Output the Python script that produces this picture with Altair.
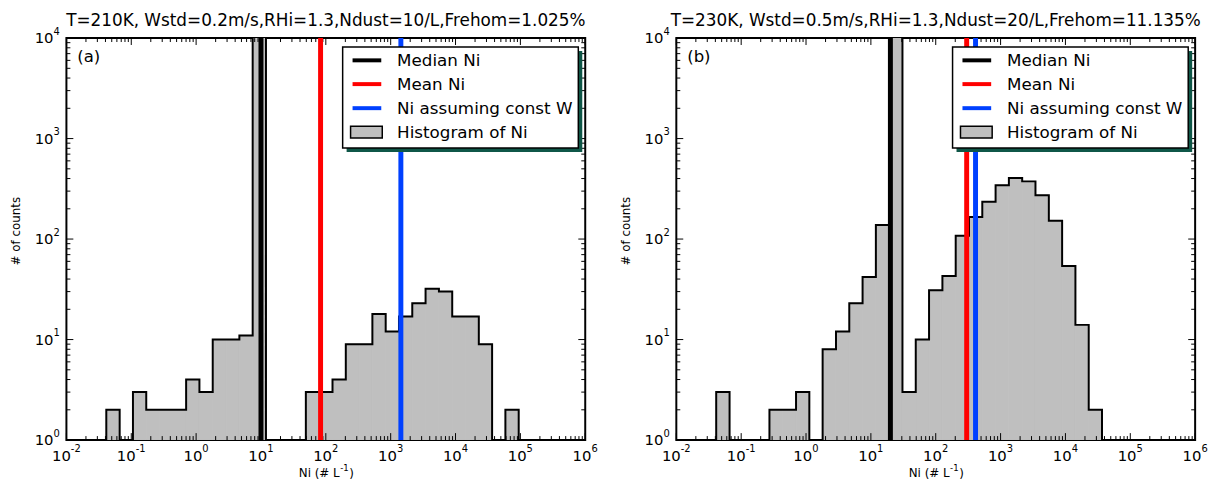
import altair as alt
import pandas as pd

FONT = "DejaVu Sans"
W, H = 524, 406

# log10 of histogram bin edges (40 edges -> 39 bins)
edges_log10 = [-2.000, -1.795, -1.590, -1.385, -1.179, -0.974, -0.769, -0.564, -0.359, -0.154,
               0.051, 0.256, 0.462, 0.667, 0.872, 1.077, 1.282, 1.487, 1.692, 1.897,
               2.103, 2.308, 2.513, 2.718, 2.923, 3.128, 3.333, 3.538, 3.744, 3.949,
               4.154, 4.359, 4.564, 4.769, 4.974, 5.179, 5.385, 5.590, 5.795, 6.000]

counts_a = [0, 0, 0, 2, 0, 3, 2, 2, 2, 4, 3, 10, 10, 11, 12000, 0, 0, 0, 3, 3,
            4, 9, 9, 18, 12, 17, 23, 32, 30, 17, 17, 9, 0, 2, 0, 0, 0, 0, 0]
counts_b = [0, 0, 0, 3, 0, 0, 0, 2, 2, 3, 0, 8, 12, 23, 42, 138, 12000, 3, 10, 31,
            43, 108, 166, 235, 343, 405, 375, 273, 152, 54, 14, 2, 0, 0, 0, 0, 0, 0, 0]

stat_names = ["Median Ni", "Mean Ni", "Ni assuming const W"]
stat_colors = ["#000000", "#ff0000", "#0040ff"]
stats_a = [10, 83, 1436]
stats_b = [20, 300, 411]

titles = ["T=210K, Wstd=0.2m/s,RHi=1.3,Ndust=10/L,Frehom=1.025%",
          "T=230K, Wstd=0.5m/s,RHi=1.3,Ndust=20/L,Frehom=11.135%"]
tags = ["(a)", "(b)"]
hist_label = "Histogram of Ni"
y_title = "# of counts"
x_title_parts = ["Ni (# L", "-1", ")"]

x_major = [0.01, 0.1, 1, 10, 100, 1e3, 1e4, 1e5, 1e6]
x_exp = ["-2", "-1", "0", "1", "2", "3", "4", "5", "6"]
y_major = [1, 10, 100, 1000, 10000]
y_exp = ["0", "1", "2", "3", "4"]
x_minor = [m * 10.0 ** k for k in range(-2, 6) for m in range(2, 10)]
y_minor = [m * 10.0 ** k for k in range(0, 4) for m in range(2, 10)]

xs = alt.Scale(type="log", domain=[0.01, 1e6], nice=False)
ys = alt.Scale(type="log", domain=[1, 10000], nice=False)

one = pd.DataFrame({"k": [0]})

LAB = 15      # tick label size
EXP = 10      # superscript size
TF = 17       # title size
LF = 16.9     # legend size
AF = 12       # axis title size


def X(f):
    return alt.X(f, scale=xs, axis=None)


def Y(f):
    return alt.Y(f, scale=ys, axis=None)


def txt(s, x, y, size, align="left", angle=0):
    kw = dict(align=align, baseline="middle", fontSize=size, font=FONT, color="black")
    if angle:
        kw["angle"] = angle
    return alt.Chart(one).mark_text(**kw).encode(
        x=alt.value(x), y=alt.value(y), text=alt.value(s))


def panel(counts, stats, title, tag):
    bars = []
    for k, c in enumerate(counts):
        if c > 0:
            bars.append({"lo": 10 ** edges_log10[k], "hi": 10 ** edges_log10[k + 1],
                         "count": c, "base": 1})
    bars_df = pd.DataFrame(bars)
    verts = [{"x": 10 ** edges_log10[0], "y": 1}]
    for k, c in enumerate(counts):
        h = max(c, 1)
        verts.append({"x": 10 ** edges_log10[k], "y": h})
        verts.append({"x": 10 ** edges_log10[k + 1], "y": h})
    verts.append({"x": 10 ** edges_log10[-1], "y": 1})
    verts_df = pd.DataFrame(verts)
    verts_df["o"] = range(len(verts_df))

    hist = alt.Chart(bars_df).mark_rect(fill="#bfbfbf", stroke="#bfbfbf", strokeWidth=1,
                                        clip=True).encode(
        x=X("lo:Q"), x2="hi:Q", y=Y("count:Q"), y2="base:Q",
    )
    outline = alt.Chart(verts_df).mark_line(color="black", strokeWidth=2, clip=True,
                                            strokeJoin="miter").encode(
        x=X("x:Q"), y=Y("y:Q"), order="o:Q",
    )
    sdf = pd.DataFrame({"name": stat_names, "v": stats, "c": stat_colors})
    rules = alt.Chart(sdf).mark_rule(strokeWidth=5).encode(
        x=X("v:Q"),
        y=alt.value(0), y2=alt.value(H),
        color=alt.Color("c:N", scale=None),
    )

    def tick_layer(vals, chan, a, b):
        df = pd.DataFrame({"v": vals})
        if chan == "x":
            return alt.Chart(df).mark_rule(color="black", strokeWidth=1).encode(
                x=X("v:Q"), y=alt.value(a), y2=alt.value(b))
        return alt.Chart(df).mark_rule(color="black", strokeWidth=1).encode(
            y=Y("v:Q"), x=alt.value(a), x2=alt.value(b))

    ticks = [
        tick_layer(x_major, "x", H, H - 7), tick_layer(x_minor, "x", H, H - 4),
        tick_layer(x_major, "x", 0, 7), tick_layer(x_minor, "x", 0, 4),
        tick_layer(y_major, "y", 0, 7), tick_layer(y_minor, "y", 0, 4),
        tick_layer(y_major, "y", W, W - 7), tick_layer(y_minor, "y", W, W - 4),
    ]

    # tick labels written as 10 + superscript exponent
    xl = pd.DataFrame({"v": x_major, "base": ["10"] * len(x_major), "exp": x_exp})
    xl_neg = xl[xl["exp"].str.startswith("-")]
    xl_pos = xl[~xl["exp"].str.startswith("-")]
    labels = []
    for df, dxv in ((xl_neg, 4.5), (xl_pos, 6.3)):
        labels.append(alt.Chart(df).mark_text(align="right", baseline="middle", fontSize=LAB,
                                              font=FONT, color="black", dx=dxv).encode(
            x=X("v:Q"), y=alt.value(H + 16), text="base:N"))
        labels.append(alt.Chart(df).mark_text(align="left", baseline="middle", fontSize=EXP,
                                              font=FONT, color="black", dx=dxv).encode(
            x=X("v:Q"), y=alt.value(H + 9.5), text="exp:N"))
    yl = pd.DataFrame({"v": y_major, "base": ["10"] * len(y_major), "exp": y_exp})
    labels.append(alt.Chart(yl).mark_text(align="right", baseline="middle", fontSize=LAB,
                                          font=FONT, color="black").encode(
        y=Y("v:Q"), x=alt.value(-13), text="base:N"))
    labels.append(alt.Chart(yl).mark_text(align="left", baseline="middle", fontSize=EXP,
                                          font=FONT, color="black", dy=-6.5).encode(
        y=Y("v:Q"), x=alt.value(-13), text="exp:N"))

    # axis titles
    w1 = 7059 / 2048 * AF
    w2 = (739 + 1303) / 2048 * (AF * 0.72)
    w3 = 799 / 2048 * AF
    x0 = W / 2 - (w1 + w2 + w3) / 2
    labels += [
        txt(x_title_parts[0], x0, H + 33, AF),
        txt(x_title_parts[1], x0 + w1 + 0.5, H + 28.5, AF * 0.72),
        txt(x_title_parts[2], x0 + w1 + w2 + 1, H + 33, AF),
        txt(y_title, -51, 195, AF, align="center", angle=270),
    ]

    # legend box (drawn by hand)
    lx0, lx1, ly0, ly1 = 279, 517, 9, 111
    leg = [
        alt.Chart(one).mark_rect(fill="#0f5748").encode(
            x=alt.value(lx0 + 4), x2=alt.value(lx1 + 4), y=alt.value(ly0 + 4), y2=alt.value(ly1 + 4)),
        alt.Chart(one).mark_rect(fill="white", stroke="black", strokeWidth=1.5).encode(
            x=alt.value(lx0), x2=alt.value(lx1), y=alt.value(ly0), y2=alt.value(ly1)),
    ]
    row_y = [22.5, 46.5, 70.8, 95]
    for i, (nm, col) in enumerate(zip(stat_names, stat_colors)):
        leg.append(alt.Chart(one).mark_rule(color=col, strokeWidth=4).encode(
            x=alt.value(289), x2=alt.value(318), y=alt.value(row_y[i])))
        leg.append(txt(nm, 334, row_y[i] + 1, LF))
    leg.append(alt.Chart(one).mark_rect(fill="#bfbfbf", stroke="black", strokeWidth=1.5).encode(
        x=alt.value(287), x2=alt.value(319), y=alt.value(89), y2=alt.value(101)))
    leg.append(txt(hist_label, 334, row_y[3] + 1, LF))
    tag_layer = txt(tag, 11, 19, 16.67)

    return alt.layer(hist, outline, *ticks, rules, *labels, *leg, tag_layer).properties(
        width=W, height=H,
        title=alt.TitleParams(title, fontSize=TF, fontWeight="normal", font=FONT,
                              anchor="middle", frame="group", offset=-3, color="black"),
    )


chart = alt.hconcat(
    panel(counts_a, stats_a, titles[0], tags[0]),
    panel(counts_b, stats_b, titles[1], tags[1]),
    spacing=20,
).properties(padding={"left": 1, "top": 0, "right": 0, "bottom": 0}).configure(
    font=FONT,
).configure_view(stroke="black", strokeWidth=2)

chart.save("out.html", embed_options={"renderer": "svg", "actions": False})
